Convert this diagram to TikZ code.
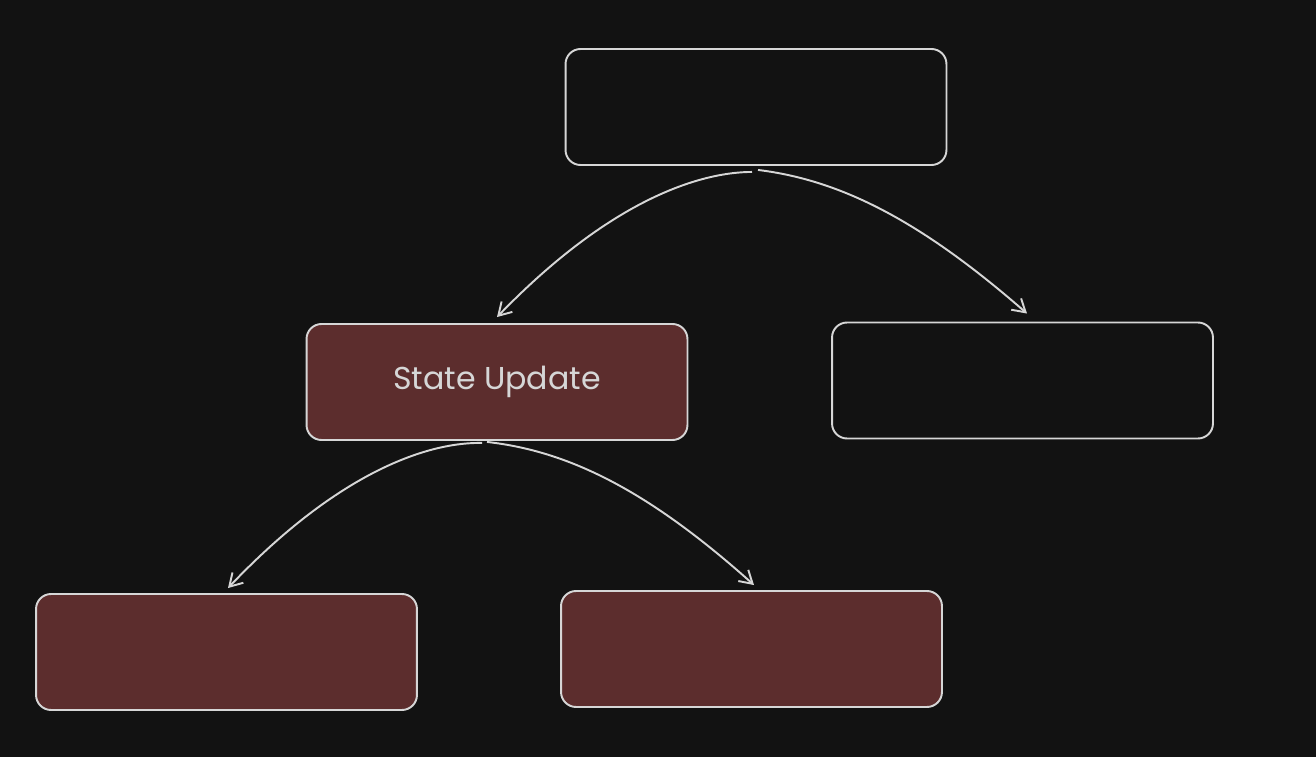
\documentclass[tikz,border=0pt]{standalone}
\usepackage{fontspec}
\usetikzlibrary{arrows.meta}
\setmainfont{Poppins}
\definecolor{bg}{HTML}{121212}
\definecolor{redfill}{HTML}{5C2D2D}
\definecolor{pen}{HTML}{D6D6D6}
\begin{document}
\begin{tikzpicture}[x = 0.02cm, y = -0.02cm, line width = 1.1pt,
                        box/.style = {rectangle, draw = pen, rounded corners = 0.3cm, minimum width = 7.62cm, minimum height = 2.32cm, inner sep = 0pt},
                        empty/.style = {box, fill = bg},
                        filled/.style = {box, fill = redfill},
                        arr/.style = {-{Straight Barb[length = 0.25cm, width = 0.3cm]}, draw = pen}]
      \fill [bg] (0, 0) rectangle (1316, 757);
      \useasboundingbox (0, 0) rectangle (1316, 757);
      \node [empty] (a1) at (756, 107){};
      \node [filled, text = pen, font = \fontsize{18}{21}\selectfont] (b1) at (497, 382){State Update};
      \node [empty] (b2) at (1022.5, 380.5){};
      \node [filled] (c1) at (226.5, 652){};
      \node [filled] (c2) at (751.5, 649){};
      \draw [arr] ([shift = {(-4, 6)}]a1.south) .. controls (705, 172) and (615, 195) .. ([shift = {(0, -6)}]b1.north);
      \draw [arr] ([shift = {(2, 4)}]a1.south) .. controls (840, 180) and (920, 220) .. ([shift = {(4.5, -8)}]b2.north);
      \draw [arr] ([shift = {(-15, 2)}]b1.south) .. controls (435, 442) and (345, 465) .. ([shift = {(1.5, -5)}]c1.north);
      \draw [arr] ([shift = {(-10, 1)}]b1.south) .. controls (569, 451) and (649, 491) .. ([shift = {(2.5, -5)}]c2.north);
    \end{tikzpicture}
\end{document}
